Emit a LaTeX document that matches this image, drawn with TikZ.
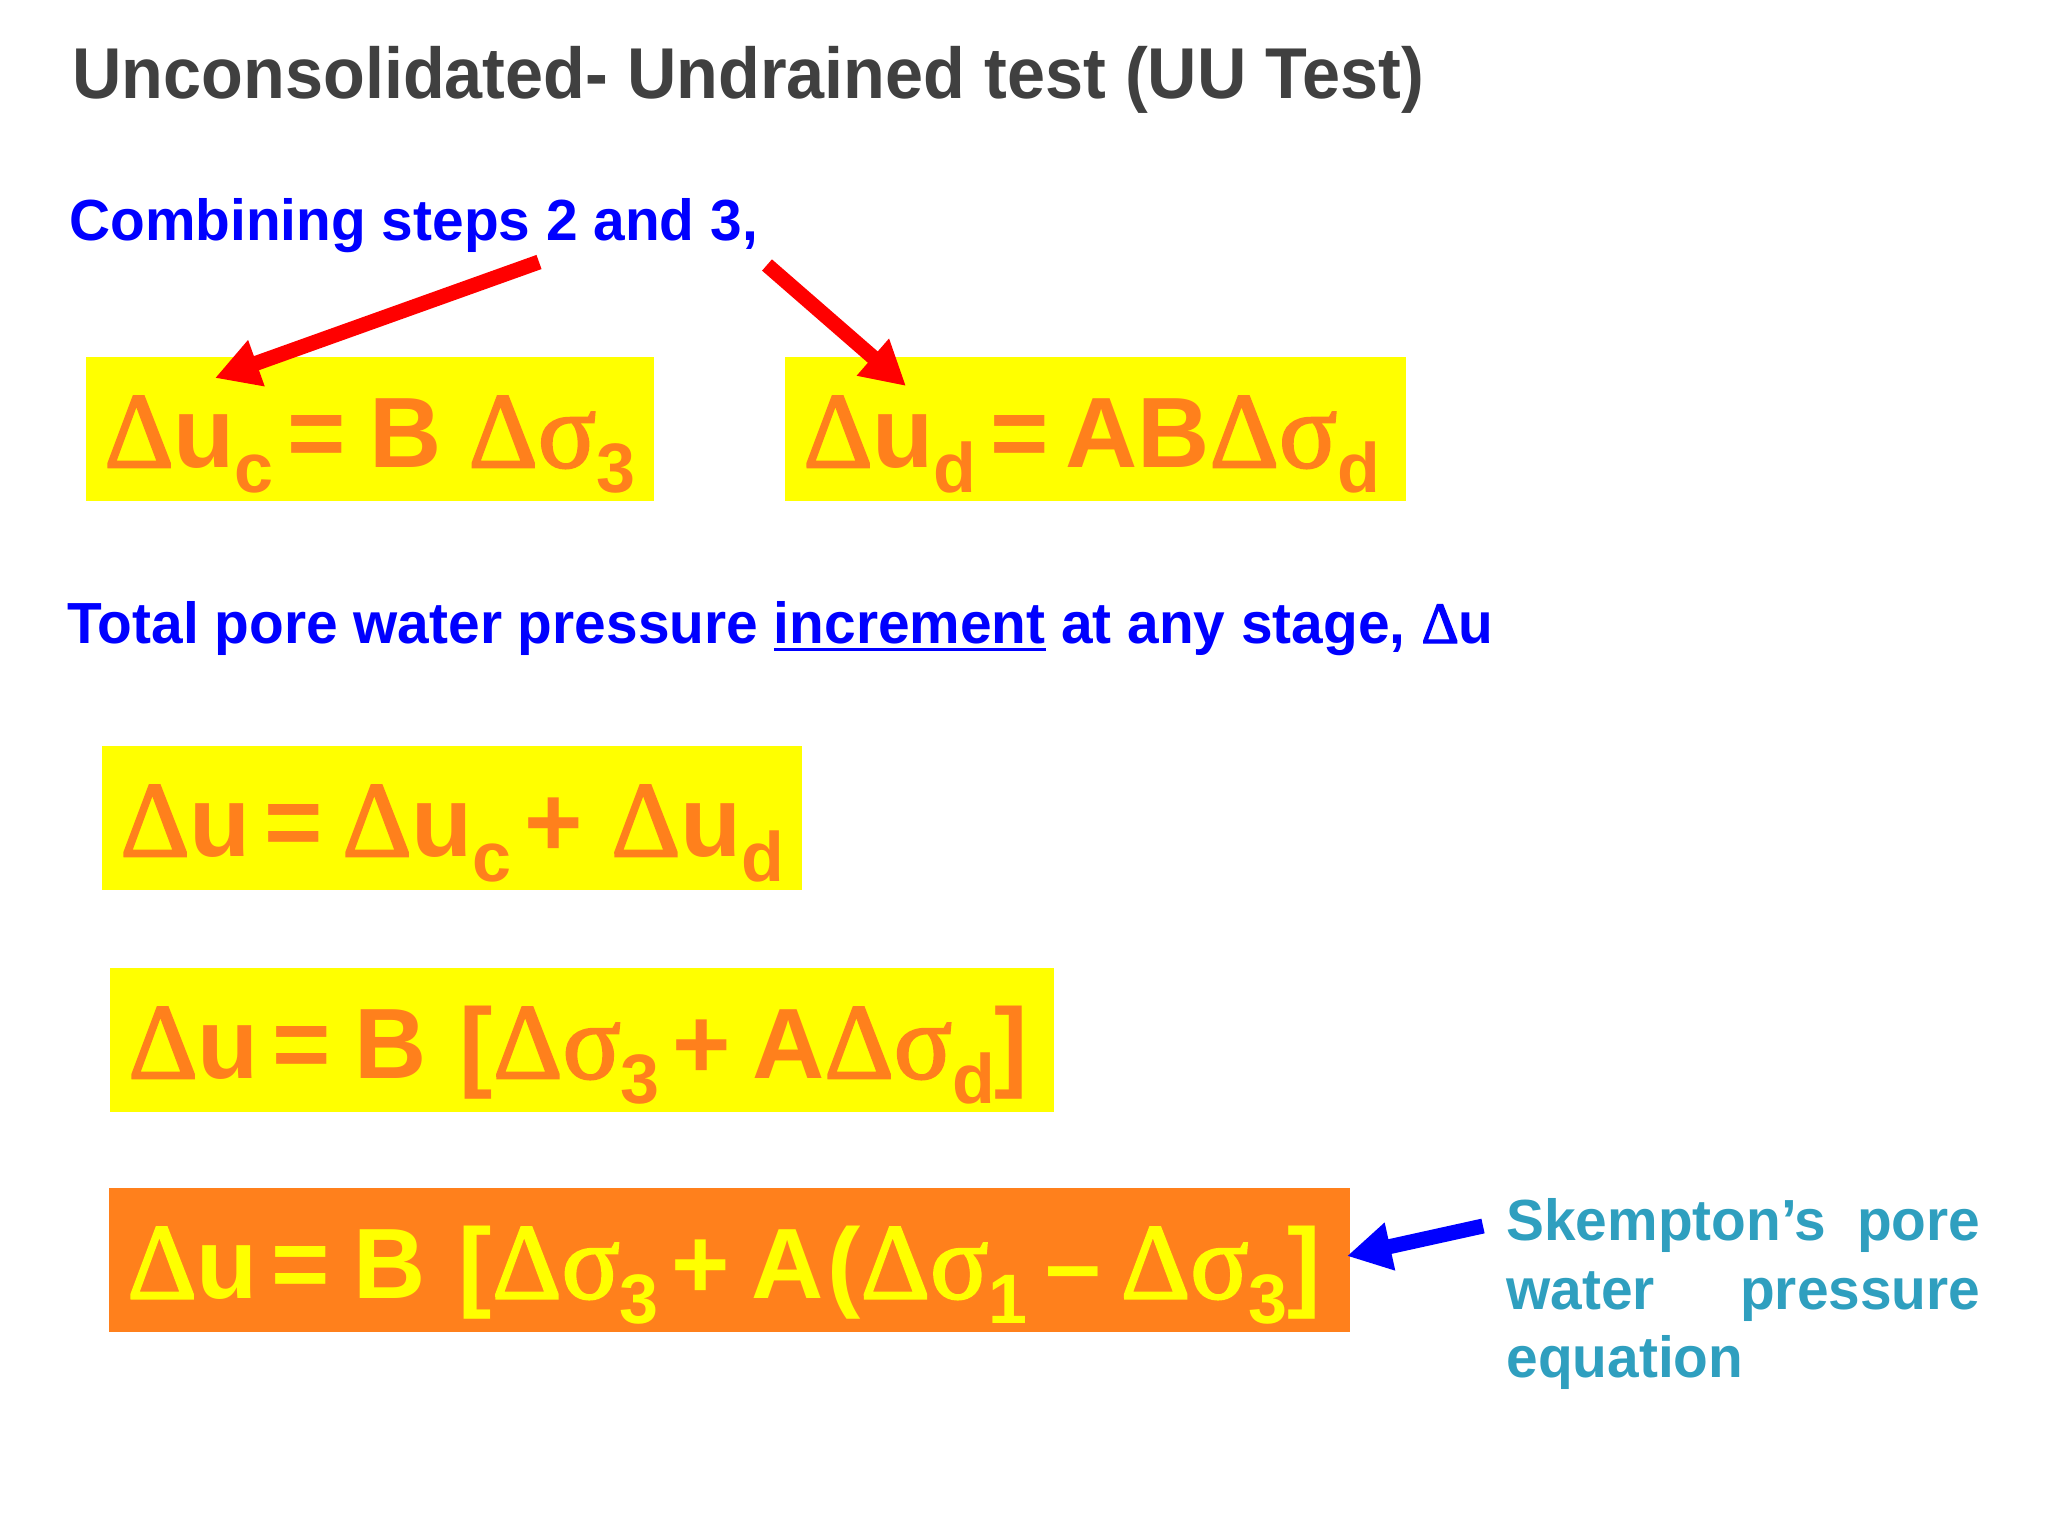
\documentclass[tikz,border=0pt]{standalone}
\usepackage{fontspec}
\setmainfont{Liberation Sans}
\newfontfamily\grkfont[FakeBold=2,Scale=1.08]{Liberation Serif}
\newfontfamily\titlefont[FakeStretch=0.95]{Liberation Sans}
\newfontfamily\notefont[FakeStretch=0.98]{Liberation Sans}
\usetikzlibrary{arrows.meta}
\definecolor{eqorange}{HTML}{FF801C}
\definecolor{eqyellow}{HTML}{FFFF00}
\definecolor{notegray}{HTML}{404040}
\definecolor{noteteal}{HTML}{2F9FBF}
\newcommand{\dl}{{\grkfont\mdseries Δ}}
\newcommand{\sg}{{\grkfont\mdseries σ}}
\newcommand{\lowr}[1]{\raisebox{-12.5pt}{\fontsize{35}{35}\selectfont #1}}
\newcommand{\eqs}[1]{\hspace{7pt}=\hspace{#1}}
\newcommand{\pls}[1]{\hspace{6.5pt}+\hspace{#1}}
\newcommand{\undr}[1]{\setbox0\hbox{#1}\rlap{\rule[-4pt]{\wd0}{1.6pt}}\box0\relax}
\begin{document}
\begin{tikzpicture}[x=0.5pt, y=-0.5pt,
    eqbox/.style = {anchor=north west, inner xsep=9pt, inner ysep=0pt, text height=55pt, text depth=17pt,
        fill=eqyellow, text=eqorange, align=left, font=\bfseries\fontsize{50}{60}\selectfont},
    heading/.style = {anchor=base west, inner sep=0pt, text=notegray, font=\titlefont\bfseries\fontsize{36}{40}\selectfont},
    bluetext/.style = {anchor=base west, inner sep=0pt, text=blue, font=\notefont\bfseries\fontsize{29}{34}\selectfont},
    pointer/.style = {-{Triangle[length=22pt, width=23pt]}, line width=7.5pt}]
    \useasboundingbox (0,0) rectangle (2048,1536);
    \node [heading] (title) at (72,98) {Unconsolidated- Undrained test (UU Test)};
    \node [bluetext] (combine) at (69,240) {Combining steps 2 and 3,};
    \node [eqbox, text width=266pt] (eqC) at (86,357) {\mbox{\dl u\lowr{c}\eqs{11.5pt}B\hspace{13.5pt}\dl\sg\lowr{3}}};
    \node [eqbox, text width=292.5pt] (eqD) at (785,357) {\mbox{\dl u\lowr{d}\eqs{8pt}AB\dl\sg\lowr{d}}};
    \node [bluetext] (total) at (67,643) {Total pore water pressure \undr{increment} at any stage, {\grkfont\mdseries\fontsize{27}{34}\selectfont Δ}u};
    \node [eqbox, text width=332pt] (eqSum) at (102,746) {\mbox{\dl u\eqs{9.5pt}\dl u\lowr{c}\pls{14pt}\dl u\lowr{d}}};
    \node [eqbox, text width=454pt] (eqB) at (110,968) {\mbox{\dl u\eqs{11.5pt}B~[\dl\sg\lowr{3}\pls{10.5pt}A\dl\sg\lowr{d}]}};
    \node [eqbox, text width=602.5pt, fill=eqorange, text=eqyellow] (eqFinal) at (109,1188)
        {\mbox{\dl u\eqs{11.5pt}B~[\dl\sg\lowr{3}\pls{10.5pt}A\hspace{2pt}(\dl\sg\lowr{1}\hspace{9pt}–\hspace{10pt}\dl\sg\lowr{3}]}};
    \node [anchor=north west, inner sep=0pt, text width=237pt, align=justify, text=noteteal,
        font=\notefont\bfseries\fontsize{29}{34.3}\selectfont] (skempton) at (1506,1198)
        {Skempton’s pore\linebreak water pressure\linebreak equation};
    \coordinate (tailC) at (539,262);
    \coordinate (tipC) at (215,378);
    \coordinate (tailD) at (767,265);
    \coordinate (tipD) at (906,386);
    \coordinate (tailS) at (1483,1226);
    \coordinate (tipS) at (1347,1256);
    \draw [pointer, red] (tailC) -- (tipC);
    \draw [pointer, red] (tailD) -- (tipD);
    \draw [pointer, blue] (tailS) -- (tipS);
\end{tikzpicture}
\end{document}
